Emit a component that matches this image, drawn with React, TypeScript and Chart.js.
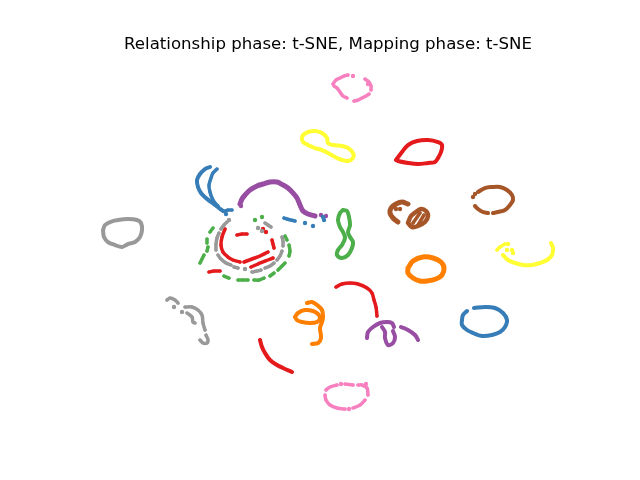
import React, { useEffect, useRef } from "react";
import { Chart, registerables } from "chart.js";

Chart.register(...registerables);

const TITLE = "Relationship phase: t-SNE, Mapping phase: t-SNE";

const RED = "#e41a1c";
const BLUE = "#377eb8";
const GREEN = "#4daf4a";
const PURPLE = "#984ea3";
const ORANGE = "#ff7f00";
const YELLOW = "#ffff33";
const BROWN = "#a65628";
const PINK = "#f781bf";
const GRAY = "#999999";

// t-SNE embedding values (x, y), grouped by cluster trace
const pinkTopA = [[333, 84], [336, 80], [340, 78], [344, 76], [348, 75]];
const pinkTopB = [[365, 79], [369, 82], [371, 86], [371, 90]];
const pinkTopC = [[369, 94], [366, 96], [362, 98], [358, 100], [354, 101]];
const pinkTopD = [[347, 98], [343, 96], [340, 92], [337, 88], [334, 86]];
const pinkTopDots = [[353, 76], [368, 84]];

const yellowTop = [[303, 135], [308, 132], [315, 131], [322, 133], [327, 138], [328, 143], [333, 145], [342, 146], [348, 148], [353, 153], [353, 158], [348, 161], [342, 160], [335, 157], [328, 153], [322, 150], [315, 148], [308, 145], [303, 142], [302, 138], [303, 135]];

const redLoop = [[396, 160], [402, 152], [408, 145], [417, 141], [428, 140], [438, 142], [442, 145], [441, 152], [438, 158], [435, 162], [428, 163], [418, 164], [408, 163], [398, 161], [396, 160]];

const blueArcOuter = [[210, 167], [205, 169], [200, 174], [197, 180], [198, 187], [201, 193], [206, 198], [211, 202], [215, 205], [219, 208], [223, 211]];
const blueArcInner = [[217, 169], [213, 173], [211, 178], [209, 185], [210, 192], [212, 198], [215, 203], [218, 206]];
const blueTail = [[220, 209], [224, 211], [228, 210], [232, 210]];
const blueRightSeg = [[284, 218], [287, 219], [291, 220], [295, 221]];
const blueDots = [[226, 214], [305, 223], [313, 226], [323, 217], [324, 220]];

const purpleArc = [[240, 204], [242, 199], [245, 195], [250, 190], [257, 186], [263, 184], [270, 182], [277, 182], [283, 185], [288, 188], [293, 193], [297, 198], [300, 205], [303, 211], [308, 214], [315, 216]];
const purpleDots = [[321, 215], [326, 216], [241, 206]];

const grayC1 = [[227, 222], [224, 225], [221, 229]];
const grayC2 = [[219, 233], [217, 238], [216, 244], [216, 250]];
const grayC3 = [[218, 255], [221, 259], [226, 263], [231, 265]];
const grayC4 = [[234, 267], [238, 268]];
const grayC5 = [[252, 272], [257, 271], [261, 270]];
const grayC6 = [[265, 268], [270, 266], [274, 263]];
const grayC7 = [[277, 260], [280, 256], [282, 251]];
const grayC8 = [[283, 246], [283, 241], [282, 237]];
const grayC9 = [[265, 223], [268, 225], [271, 227]];
const grayCDots = [[258, 228], [262, 231], [229, 220], [245, 269]];

const redC1 = [[225, 229], [222, 237], [221, 245], [223, 252], [228, 257], [233, 260], [240, 262]];
const redC2 = [[237, 235], [242, 234], [247, 234]];
const redC3 = [[244, 262], [252, 259], [260, 256], [268, 252]];
const redC4 = [[251, 267], [258, 264], [265, 261], [273, 258]];
const redC5 = [[272, 240], [273, 244], [274, 248]];
const redC6 = [[209, 272], [214, 271], [220, 271]];
const redCDots = [[263, 229], [266, 232]];

const greenC1 = [[213, 228], [210, 232]];
const greenC2 = [[207, 239], [207, 243]];
const greenC3 = [[208, 247], [207, 251]];
const greenC4 = [[204, 255], [202, 259], [200, 263]];
const greenC5 = [[224, 276], [229, 278]];
const greenC6 = [[238, 280], [243, 280], [248, 280]];
const greenC7 = [[254, 280], [259, 280], [264, 278]];
const greenC8 = [[270, 276], [274, 273]];
const greenC9 = [[278, 270], [282, 266], [285, 263]];
const greenC10 = [[285, 236], [287, 240]];
const greenC11 = [[289, 245], [290, 251], [289, 256]];
const greenCDots = [[255, 220], [262, 217]];

const greenLoop = [[343, 210], [340, 213], [338, 220], [340, 227], [343, 232], [345, 238], [342, 245], [338, 250], [337, 255], [342, 258], [348, 255], [352, 248], [353, 242], [350, 237], [348, 232], [350, 225], [349, 217], [347, 211], [343, 210]];

const brownSmallC = [[408, 204], [402, 202], [396, 204], [391, 208], [390, 213], [393, 218], [398, 222]];
const brownSmallRing = [[408, 223], [411, 216], [416, 212], [421, 209], [426, 211], [428, 216], [425, 222], [418, 226], [412, 227], [408, 223]];
const brownSmallIn1 = [[413, 223], [420, 213]];
const brownSmallIn2 = [[418, 225], [424, 215]];
const brownSmallDots = [[400, 209], [396, 209]];

const brownRingA = [[478, 192], [485, 188], [492, 187], [500, 187], [507, 190], [512, 195], [513, 200], [510, 205], [505, 210], [498, 212], [493, 213]];
const brownRingB = [[488, 213], [483, 212], [478, 209], [475, 206]];
const brownRingDots = [[473, 197], [475, 194]];

const yellowRightSeg = [[497, 250], [500, 247], [505, 244]];
const yellowRightArc = [[503, 255], [508, 260], [515, 263], [523, 265], [532, 265], [540, 263], [547, 260], [552, 255], [553, 248], [551, 243]];
const yellowRightDots = [[508, 244], [507, 250], [512, 250], [513, 253]];

const grayLeftLoop = [[103, 230], [105, 225], [110, 222], [118, 220], [128, 219], [137, 220], [141, 223], [142, 230], [140, 237], [135, 242], [128, 244], [122, 247], [115, 245], [108, 242], [104, 237], [103, 230]];

const grayLL1 = [[167, 300], [170, 298], [175, 300], [178, 303]];
const grayLL2 = [[185, 307], [192, 307], [198, 310], [202, 315], [203, 323], [205, 330]];
const grayLL3 = [[206, 335], [208, 340], [207, 343], [203, 343], [200, 340]];
const grayLL4 = [[187, 313], [192, 317], [193, 322], [195, 323]];
const grayLLDots = [[182, 312], [174, 307]];

const orangeMidLoop = [[295, 317], [298, 313], [305, 310], [313, 311], [318, 314], [320, 318], [317, 322], [310, 323], [302, 322], [297, 320], [295, 317]];
const orangeMidCurl = [[307, 303], [312, 302], [317, 305], [322, 310], [323, 317], [322, 322], [320, 328], [321, 338], [318, 343], [312, 344]];

const redArc = [[336, 287], [342, 284], [350, 283], [358, 284], [367, 288], [372, 293], [374, 300], [376, 307], [377, 316]];

const purpleLowL = [[367, 338], [368, 332], [373, 327], [380, 323], [387, 322], [392, 323], [394, 327]];
const purpleLowU = [[382, 327], [385, 332], [385, 338], [388, 345], [393, 343], [395, 337], [393, 331]];
const purpleLowR = [[401, 327], [408, 330], [415, 335], [418, 340]];

const blueRing = [[474, 308], [485, 307], [495, 308], [503, 313], [507, 320], [505, 327], [500, 332], [492, 335], [482, 336], [473, 333], [467, 330], [462, 325], [462, 320], [463, 315], [467, 311]];

const redLow = [[260, 340], [262, 347], [265, 353], [270, 360], [277, 365], [283, 368], [292, 372]];

const pinkBot1 = [[326, 390], [330, 387], [337, 385]];
const pinkBot2 = [[345, 384], [353, 385]];
const pinkBot3 = [[358, 385], [362, 385], [367, 388], [368, 395]];
const pinkBot4 = [[365, 400], [360, 405], [353, 408]];
const pinkBot5 = [[345, 409], [337, 408], [330, 405], [326, 400], [325, 395]];
const pinkBotDots = [[341, 384], [349, 409], [366, 384]];

const orangeRing = [[408, 268], [413, 261], [423, 257], [433, 258], [441, 262], [444, 268], [442, 275], [436, 279], [427, 281], [420, 281], [413, 278], [408, 273], [408, 268]];

type Trace = { color: string; pts: number[][]; line: boolean; width?: number };

const traces: Trace[] = [
  { color: PINK, pts: pinkTopA, line: true },
  { color: PINK, pts: pinkTopB, line: true },
  { color: PINK, pts: pinkTopC, line: true },
  { color: PINK, pts: pinkTopD, line: true },
  { color: PINK, pts: pinkTopDots, line: false },
  { color: YELLOW, pts: yellowTop, line: true, width: 4 },
  { color: RED, pts: redLoop, line: true, width: 4 },
  { color: BLUE, pts: blueArcOuter, line: true, width: 4 },
  { color: BLUE, pts: blueArcInner, line: true },
  { color: BLUE, pts: blueTail, line: true },
  { color: BLUE, pts: blueRightSeg, line: true },
  { color: BLUE, pts: blueDots, line: false },
  { color: PURPLE, pts: purpleArc, line: true, width: 5 },
  { color: PURPLE, pts: purpleDots, line: false },
  ...[grayC1, grayC2, grayC3, grayC4, grayC5, grayC6, grayC7, grayC8, grayC9].map((p) => ({ color: GRAY, pts: p, line: true })),
  { color: GRAY, pts: grayCDots, line: false },
  ...[redC1, redC2, redC3, redC4, redC5, redC6].map((p) => ({ color: RED, pts: p, line: true })),
  { color: RED, pts: redCDots, line: false },
  ...[greenC1, greenC2, greenC3, greenC4, greenC5, greenC6, greenC7, greenC8, greenC9, greenC10, greenC11].map((p) => ({ color: GREEN, pts: p, line: true })),
  { color: GREEN, pts: greenCDots, line: false },
  { color: GREEN, pts: greenLoop, line: true, width: 4 },
  { color: BROWN, pts: brownSmallC, line: true, width: 5 },
  { color: BROWN, pts: brownSmallRing, line: true, width: 4.5 },
  { color: BROWN, pts: brownSmallIn1, line: true },
  { color: BROWN, pts: brownSmallIn2, line: true },
  { color: BROWN, pts: brownSmallDots, line: false },
  { color: BROWN, pts: brownRingA, line: true, width: 4 },
  { color: BROWN, pts: brownRingB, line: true, width: 4 },
  { color: BROWN, pts: brownRingDots, line: false },
  { color: YELLOW, pts: yellowRightSeg, line: true },
  { color: YELLOW, pts: yellowRightArc, line: true, width: 4 },
  { color: YELLOW, pts: yellowRightDots, line: false },
  { color: GRAY, pts: grayLeftLoop, line: true, width: 4 },
  ...[grayLL1, grayLL2, grayLL3, grayLL4].map((p) => ({ color: GRAY, pts: p, line: true })),
  { color: GRAY, pts: grayLLDots, line: false },
  { color: ORANGE, pts: orangeMidLoop, line: true, width: 4 },
  { color: ORANGE, pts: orangeMidCurl, line: true, width: 4 },
  { color: RED, pts: redArc, line: true },
  { color: PURPLE, pts: purpleLowL, line: true, width: 4 },
  { color: PURPLE, pts: purpleLowU, line: true, width: 4 },
  { color: PURPLE, pts: purpleLowR, line: true, width: 4 },
  { color: BLUE, pts: blueRing, line: true, width: 4 },
  { color: RED, pts: redLow, line: true, width: 4 },
  ...[pinkBot1, pinkBot2, pinkBot3, pinkBot4, pinkBot5].map((p) => ({ color: PINK, pts: p, line: true })),
  { color: PINK, pts: pinkBotDots, line: false },
  { color: ORANGE, pts: orangeRing, line: true, width: 5 },
];

export default function App() {
  const ref = useRef<HTMLCanvasElement | null>(null);

  useEffect(() => {
    document.body.style.margin = "0";
    if (!ref.current) return;
    const datasets = traces.map((t) => ({
      data: t.pts.map(([x, y]) => ({ x, y })),
      showLine: t.line,
      borderColor: t.color,
      backgroundColor: t.color,
      borderWidth: t.line ? t.width ?? 3.5 : 0,
      borderCapStyle: "round" as const,
      borderJoinStyle: "round" as const,
      tension: 0.35,
      pointRadius: t.line ? 1.6 : 2.2,
      pointBorderWidth: 0,
      pointHoverRadius: 0,
    }));
    const chart = new Chart(ref.current, {
      type: "scatter",
      data: { datasets },
      options: {
        responsive: false,
        animation: false,
        events: [],
        layout: { padding: { left: 80, right: 64, top: 0, bottom: 53 } },
        plugins: {
          legend: { display: false },
          tooltip: { enabled: false },
          title: {
            display: true,
            text: TITLE,
            color: "#000000",
            font: { family: "DejaVu Sans", size: 16.6, weight: "normal" },
            padding: { top: 35, bottom: 3.1 },
          },
        },
        scales: {
          x: { type: "linear", min: 80, max: 576, display: false },
          y: { type: "linear", min: 58, max: 427, reverse: true, display: false },
        },
      },
    });
    return () => chart.destroy();
  }, []);

  return (
    <div style={{ position: "absolute", left: 0, top: 0, width: 640, height: 480, background: "#fff" }}>
      <canvas ref={ref} width={640} height={480} style={{ display: "block" }} />
    </div>
  );
}
